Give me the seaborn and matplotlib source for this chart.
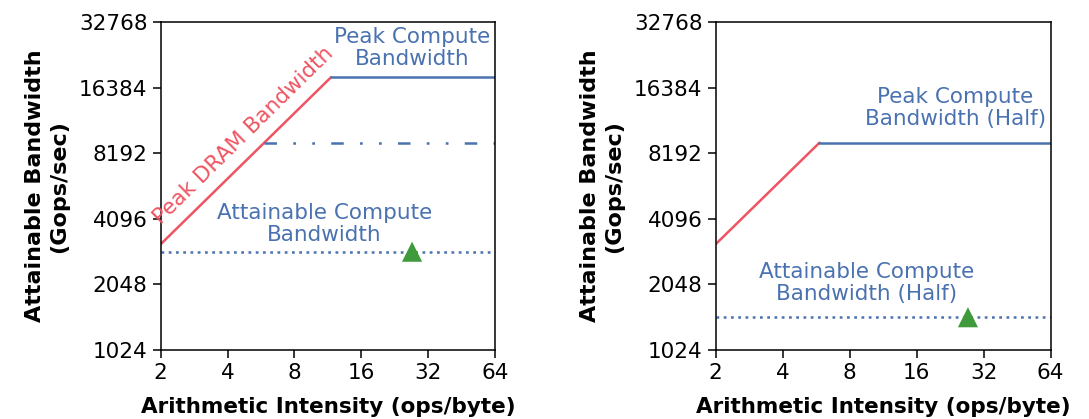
import matplotlib
matplotlib.use("Agg")
import matplotlib.pyplot as plt
import seaborn as sns

# ---- data ----
x_ticks = [2, 4, 8, 16, 32, 64]
y_ticks = [1024, 2048, 4096, 8192, 16384, 32768]

# left panel
dram_x = [2, 11.7]
dram_y = [3136, 18340]
peak_x = [11.7, 64]
peak_y = [18340, 18340]
half_x = [5.85, 64]
half_y = [9170, 9170]
attain_x = [2, 64]
attain_y = [2896, 2896]
point_x = [27.1]
point_y = [2896]

# right panel
dram2_x = [2, 5.85]
dram2_y = [3136, 9170]
peak2_x = [5.85, 64]
peak2_y = [9170, 9170]
attain2_x = [2, 64]
attain2_y = [1448, 1448]
point2_x = [27.2]
point2_y = [1448]

RED = "#ee5462"
BLUE = "#4a72b0"
GREEN = "#3e9a3a"
FS = 15.5

sns.set_style("ticks")
plt.rcParams["font.family"] = ["DejaVu Sans"]
plt.rcParams["text.color"] = "black"
plt.rcParams["axes.labelcolor"] = "black"

fig = plt.figure(figsize=(10.89, 4.19), dpi=100)
ax1 = fig.add_axes([0.1476, 0.1647, 0.3069, 0.782])
ax2 = fig.add_axes([0.6572, 0.1647, 0.3076, 0.782])

lw = 1.8
dot_style = (0, (1.1, 1.8))
dashdotdot = (0, (5, 6.5, 1.1, 6.5, 1.1, 6.5))

# left
sns.lineplot(x=dram_x, y=dram_y, ax=ax1, color=RED, lw=lw)
sns.lineplot(x=peak_x, y=peak_y, ax=ax1, color=BLUE, lw=lw)
sns.lineplot(x=half_x, y=half_y, ax=ax1, color=BLUE, lw=lw, linestyle=dashdotdot)
sns.lineplot(x=attain_x, y=attain_y, ax=ax1, color=BLUE, lw=lw, linestyle=dot_style)
sns.scatterplot(x=point_x, y=point_y, ax=ax1, color=GREEN, marker="^", s=210,
                edgecolor="none", zorder=5)

# right
sns.lineplot(x=dram2_x, y=dram2_y, ax=ax2, color=RED, lw=lw)
sns.lineplot(x=peak2_x, y=peak2_y, ax=ax2, color=BLUE, lw=lw)
sns.lineplot(x=attain2_x, y=attain2_y, ax=ax2, color=BLUE, lw=lw, linestyle=dot_style)
sns.scatterplot(x=point2_x, y=point2_y, ax=ax2, color=GREEN, marker="^", s=210,
                edgecolor="none", zorder=5)

for ax in (ax1, ax2):
    ax.set_xscale("log", base=2)
    ax.set_yscale("log", base=2)
    ax.set_xlim(2, 64)
    ax.set_ylim(1024, 32768)
    ax.set_xticks(x_ticks)
    ax.set_xticklabels([str(t) for t in x_ticks])
    ax.set_yticks(y_ticks)
    ax.set_yticklabels([str(t) for t in y_ticks])
    ax.minorticks_off()
    ax.tick_params(axis="both", labelsize=FS, length=6, width=1.1, color="black",
                   labelcolor="black", direction="out")
    for sp in ax.spines.values():
        sp.set_visible(True)
        sp.set_color("black")
        sp.set_linewidth(1.1)
    ax.set_xlabel("Arithmetic Intensity (ops/byte)", fontsize=FS, fontweight="bold",
                  labelpad=10, color="black")
    ax.set_ylabel("Attainable Bandwidth\n(Gops/sec)", fontsize=16, fontweight="bold",
                  labelpad=7, linespacing=1.25, color="black")

# annotations left
ax1.text(27, 25000, "Peak Compute\nBandwidth", color=BLUE, fontsize=FS,
         ha="center", va="center", linespacing=1.15)
ax1.text(10.9, 3880, "Attainable Compute\nBandwidth", color=BLUE, fontsize=FS,
         ha="center", va="center", linespacing=1.15)
ax1.text(4.74, 9950, "Peak DRAM Bandwidth", color=RED, fontsize=FS,
         ha="center", va="center", rotation=44.5, rotation_mode="anchor")

# annotations right
ax2.text(23.9, 13200, "Peak Compute\nBandwidth (Half)", color=BLUE, fontsize=FS,
         ha="center", va="center", linespacing=1.15)
ax2.text(9.5, 2080, "Attainable Compute\nBandwidth (Half)", color=BLUE, fontsize=FS,
         ha="center", va="center", linespacing=1.15)

fig.savefig("out.png", dpi=100)
